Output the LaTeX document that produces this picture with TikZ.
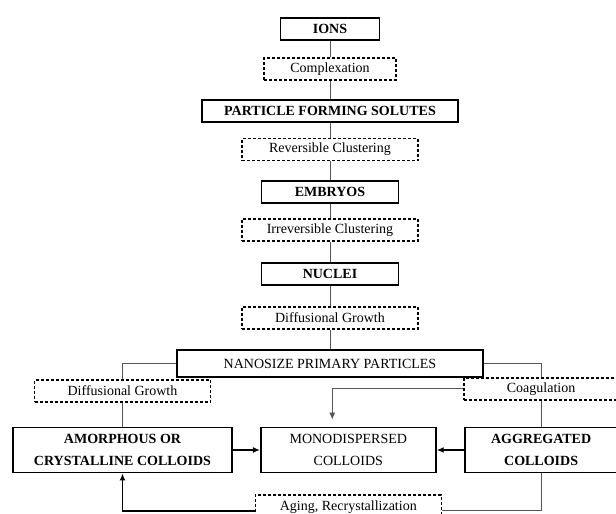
\documentclass[tikz,border=0pt]{standalone}
\usepackage{fontspec}
\setmainfont{Liberation Serif}
\usetikzlibrary{positioning,arrows.meta}
\definecolor{LineGray}{HTML}{555555}

\begin{document}
\begin{tikzpicture}[x=1pt,y=-1pt,
      node distance = 16pt,
      box/.style = {rectangle, draw=black, line width=1.8pt, inner sep=0pt,
        minimum height=22pt, align=center,
        font=\fontsize{14}{22}\selectfont\bfseries},
      dbox/.style = {rectangle, draw=black, line width=1.6pt,
        dash pattern=on 3pt off 2pt, inner sep=0pt, minimum height=22pt,
        minimum width=176pt, font=\fontsize{14}{22}\selectfont},
      link/.style = {draw=LineGray, line width=0.9pt},
      arrow/.style = {draw=black, line width=1.6pt, -{Latex[length=7pt,width=6pt]}}
    ]
    \useasboundingbox (0,0) rectangle (616,514);
    % main chain
    \node (A) [box, minimum width=99pt] at (330,29) {IONS};
    \node (B) [dbox, minimum width=132pt, below=16pt of A] {Complexation};
    \node (C) [box, minimum width=256pt, below=18.5pt of B] {PARTICLE FORMING SOLUTES};
    \node (D) [dbox, below=15pt of C] {Reversible Clustering};
    \node (E) [box, minimum width=137pt, below=18.5pt of D] {EMBRYOS};
    \node (F) [dbox, below=14.5pt of E] {Irreversible Clustering};
    \node (G) [box, minimum width=137pt, below=20pt of F] {NUCLEI};
    \node (H) [dbox, below=20.5pt of G] {Diffusional Growth};
    \node (I) [box, font=\fontsize{14}{22}\selectfont, minimum width=306pt,
      minimum height=27pt, below=19.5pt of H] {NANOSIZE PRIMARY PARTICLES};
    % colloids
    \node (J) [box, minimum width=219pt, minimum height=45pt] at (122.5,450)
      {AMORPHOUS OR\\CRYSTALLINE COLLOIDS};
    \node (K) [box, font=\fontsize{14}{22}\selectfont, minimum width=175pt,
      minimum height=45pt, right=27pt of J] {MONODISPERSED\\COLLOIDS};
    \node (L) [box, minimum width=153pt, minimum height=45pt, right=27pt of K]
      {AGGREGATED\\COLLOIDS};
    \node (M) [dbox, above=24pt of J] {Diffusional Growth};
    \node (N) [dbox, minimum width=154pt, above=26pt of L] {Coagulation};
    \node (O) [dbox, minimum width=186pt, minimum height=24pt, below=20.5pt of K]
      {Aging, Recrystallization};
    \draw [link] (A) -- (B);
    \draw [link] (B) -- (C);
    \draw [link] (C) -- (D);
    \draw [link] (D) -- (E);
    \draw [link] (E) -- (F);
    \draw [link] (F) -- (G);
    \draw [link] (G) -- (H);
    \draw [link] (H) -- (I);
    \draw [link] (I.west) -| (M.north);
    \draw [link] (M) -- (J);
    \draw [link] (I.east) -| (N.north);
    \draw [link] (N) -- (L);
    \draw [link, -{Latex[length=7pt,width=6pt]}, shorten >=7pt]
      (N.west) -| ([xshift=-16pt]K.north);
    \draw [arrow] (J) -- (K);
    \draw [arrow] (L) -- (K);
    \draw [link] (L.south) |- ([yshift=-4pt]O.east);
    \draw [arrow] ([yshift=-4pt]O.west) -| (J.south);
  \end{tikzpicture}
\end{document}
